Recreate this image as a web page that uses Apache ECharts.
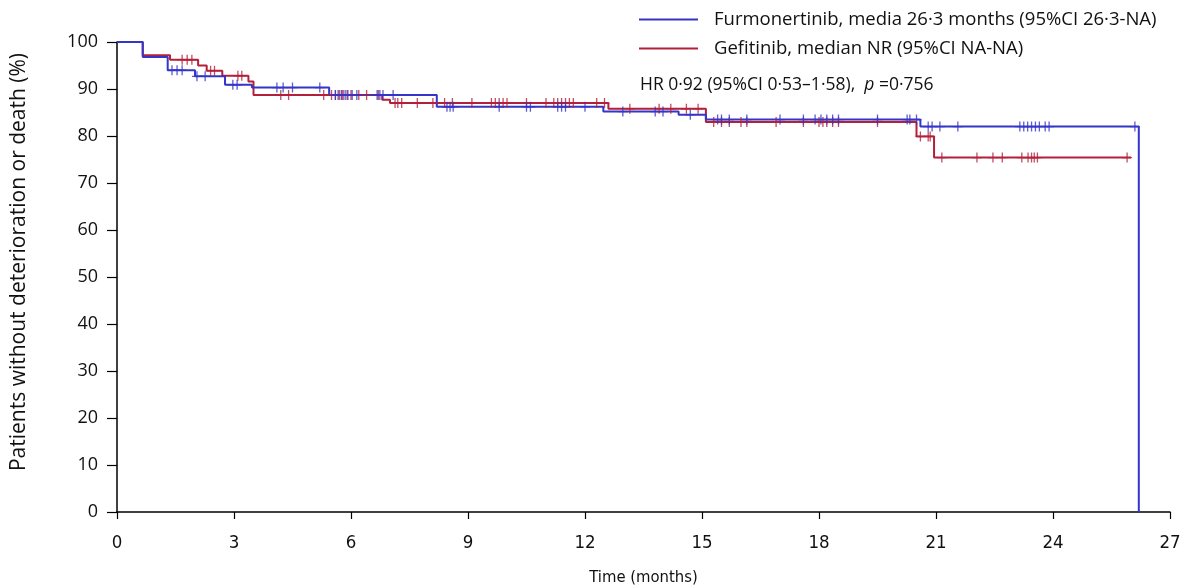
<!DOCTYPE html>
<html>
<head>
<meta charset="utf-8">
<script src="https://cdn.jsdelivr.net/npm/echarts@6/dist/echarts.min.js"></script>
<style>
html,body{margin:0;padding:0;background:#fff;}
#chart{width:1196px;height:588px;}
</style>
</head>
<body>
<div id="chart"></div>
<script>
// ---- Data ----
const xTicks = [0, 3, 6, 9, 12, 15, 18, 21, 24, 27];
const yTicks = [0, 10, 20, 30, 40, 50, 60, 70, 80, 90, 100];

// Furmonertinib step curve (time in months, % without deterioration or death)
const furTimes = [0, 0.66, 1.3, 2.0, 2.77, 3.46, 5.44, 8.2, 12.47, 14.4, 15.1, 20.6, 26.2];
const furSurv  = [100, 96.8, 94.0, 92.7, 90.9, 90.3, 88.7, 86.2, 85.2, 84.5, 83.5, 82.0, 0];
const furCensor = [1.41, 1.54, 1.67, 2.05, 2.26, 2.97, 3.08, 4.1, 4.26, 4.5, 5.2,
  5.6, 5.67, 5.77, 5.85, 5.92, 6.03, 6.15, 6.67, 6.74, 6.82, 7.08,
  8.46, 8.54, 8.62, 9.8, 10.5, 10.6, 11.3, 11.4, 11.5, 12.0,
  12.97, 13.8, 14.0, 14.7,
  15.4, 15.5, 15.7, 16.15, 17.0, 17.6, 17.9, 18.05, 18.2, 18.35, 18.5, 19.5, 20.26, 20.33, 20.5,
  20.8, 20.9, 21.1, 21.56, 23.15, 23.25, 23.35, 23.45, 23.55, 23.65, 23.8, 23.9, 26.1];

// Gefitinib step curve
const gefTimes = [0, 0.66, 1.36, 2.08, 2.3, 2.7, 3.37, 3.5, 6.8, 7.0, 12.6, 15.1, 20.5, 20.95];
const gefSurv  = [100, 97.2, 96.2, 95.0, 93.9, 92.8, 91.6, 88.7, 87.7, 87.0, 85.8, 83.0, 79.9, 75.4];
const gefEnd = 26.0;
const gefCensor = [1.67, 1.8, 1.92, 2.4, 2.5, 3.1, 3.2,
  4.2, 4.4, 5.3, 5.5, 5.6, 5.7, 5.75, 5.8, 5.9, 6.0, 6.2, 6.4, 6.7,
  7.13, 7.2, 7.3, 7.7, 8.1, 8.4, 8.6, 9.1, 9.6, 9.7, 9.8, 9.9, 10.0, 10.5, 11.0, 11.2, 11.3, 11.4, 11.5, 11.6, 11.7, 12.3, 12.5,
  13.15, 13.9, 14.2, 14.6, 14.9,
  15.3, 15.5, 15.7, 16.0, 16.15, 16.9, 17.6, 18.0, 18.1, 18.2, 18.35, 18.5, 19.5,
  20.6, 20.8, 20.85,
  21.15, 22.05, 22.46, 22.7, 23.2, 23.36, 23.45, 23.52, 23.6, 25.9];

const seriesNames = ['Furmonertinib, media 26·3 months (95%CI 26·3-NA)', 'Gefitinib, median NR (95%CI NA-NA)'];
const yTitle = 'Patients without deterioration or death (%)';
const xTitle = 'Time (months)';
const blue = '#3535c8';
const red = '#b3203a';

// ---- helpers ----
function stepValue(times, surv, t) {
  let v = surv[0];
  for (let i = 0; i < times.length; i++) { if (times[i] <= t) v = surv[i]; }
  return v;
}
const furLine = furTimes.map((t, i) => [t, furSurv[i]]);
const gefLine = gefTimes.map((t, i) => [t, gefSurv[i]]);
gefLine.push([gefEnd, gefSurv[gefSurv.length - 1]]);
const furCens = furCensor.map(t => [t, stepValue(furTimes, furSurv, t)]);
const gefCens = gefCensor.map(t => [t, stepValue(gefTimes, gefSurv, t)]);

const plusPath = 'path://M-0.13,-1 L0.13,-1 L0.13,-0.13 L1,-0.13 L1,0.13 L0.13,0.13 L0.13,1 L-0.13,1 L-0.13,0.13 L-1,0.13 L-1,-0.13 L-0.13,-0.13 Z';

const chart = echarts.init(document.getElementById('chart'), null, {renderer: 'canvas'});
const labelFont = '"Open Sans", "Noto Sans", sans-serif';
const narrowFont = '"Liberation Sans Narrow", "DejaVu Sans Condensed", sans-serif';

chart.setOption({
  animation: false,
  backgroundColor: '#fff',
  grid: {left: 117, right: 26, top: 42, bottom: 76, outerBoundsMode: 'none', containLabel: false},
  legend: {
    data: seriesNames,
    orient: 'vertical',
    left: 639, top: 10,
    padding: 0,
    itemWidth: 59, itemHeight: 2,
    itemGap: 10,
    icon: 'rect',
    textStyle: {fontFamily: labelFont, fontSize: 18.5, color: '#111', padding: [0, 0, 0, 11]}
  },
  graphic: [{
    type: 'text', left: 640, top: 76,
    style: {
      text: 'HR 0·92 (95%CI 0·53–1·58),  {i|p} =0·756',
      font: '17.5px ' + labelFont,
      fill: '#111',
      rich: {i: {fontStyle: 'italic', fontFamily: labelFont, fontSize: 17.5, fill: '#111'}}
    }
  }, {
    type: 'text', x: 19, y: 262, rotation: Math.PI / 2,
    style: {
      text: yTitle, font: '21px ' + labelFont, fill: '#111',
      align: 'center', verticalAlign: 'middle'
    }
  }],
  xAxis: {
    type: 'value', min: 0, max: 27, interval: 3,
    name: xTitle, nameLocation: 'middle', nameGap: 57,
    nameTextStyle: {fontFamily: narrowFont, fontSize: 16.5, color: '#111'},
    axisLine: {lineStyle: {color: '#000', width: 1.5}},
    axisTick: {length: 7, lineStyle: {color: '#000', width: 1.2}},
    axisLabel: {fontFamily: narrowFont, fontSize: 18.5, color: '#111', margin: 22,
      formatter: v => xTicks.includes(v) ? String(v) : ''},
    splitLine: {show: false}
  },
  yAxis: {
    type: 'value', min: 0, max: 100, interval: 10,
    axisLine: {show: true, lineStyle: {color: '#000', width: 1.5}},
    axisTick: {show: true, length: 10, lineStyle: {color: '#000', width: 1.2}},
    axisLabel: {fontFamily: labelFont, fontSize: 18, color: '#111', margin: 19,
      formatter: v => yTicks.includes(v) ? String(v) : ''},
    splitLine: {show: false}
  },
  series: [
    {name: seriesNames[0], type: 'line', step: 'end', data: furLine, showSymbol: false,
      lineStyle: {color: blue, width: 2}, itemStyle: {color: blue}, z: 3},
    {name: seriesNames[1], type: 'line', step: 'end', data: gefLine, showSymbol: false,
      lineStyle: {color: red, width: 2}, itemStyle: {color: red}, z: 2},
    {name: seriesNames[0] + ' censored', type: 'scatter', data: furCens, symbol: plusPath,
      symbolSize: 10, itemStyle: {color: blue}, z: 4},
    {name: seriesNames[1] + ' censored', type: 'scatter', data: gefCens, symbol: plusPath,
      symbolSize: 10, itemStyle: {color: red}, z: 3}
  ]
});
</script>
</body>
</html>
